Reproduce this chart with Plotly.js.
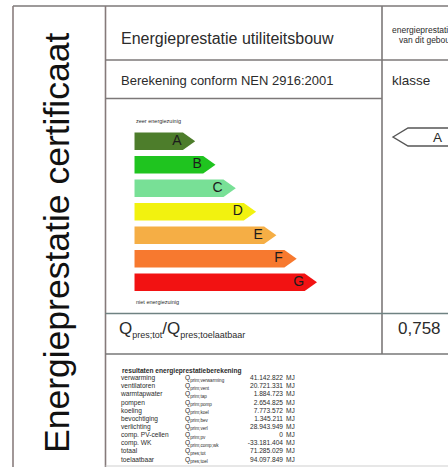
<!DOCTYPE html>
<html>
<head>
<meta charset="utf-8">
<script src="https://cdn.plot.ly/plotly-3.0.1.min.js"></script>
<style>html,body{margin:0;padding:0;background:#fff;overflow:hidden}#chart{width:448px;height:467px}</style>
</head>
<body>
<div id="chart"></div>
<script>
// ---- data ----
var classes = ['A', 'B', 'C', 'D', 'E', 'F', 'G'];
var classLengths = [3, 4, 5, 6, 7, 8, 9];
var classColors = ['#4d7d2b', '#1fc41f', '#78e096', '#f2f20f', '#f5ae45', '#f7792f', '#f21212'];
var resultClass = 'A';
var ratioValue = 0.758;

var rowLabels = ['verwarming', 'ventilatoren', 'warmtapwater', 'pompen', 'koeling', 'bevochtiging',
  'verlichting', 'comp. PV-cellen', 'comp. WK', 'totaal', 'toelaatbaar'];
var rowSymbols = ['prim;verwarming', 'prim;vent', 'prim;tap', 'prim;pomp', 'prim;koel', 'prim;bev',
  'prim;verl', 'prim;pv', 'prim;comp;wk', 'pres;tot', 'pres;toel'];
var rowValues = [41142822, 20721331, 1884723, 2654825, 7773572, 1345211, 28943949, 0, -33181404, 71285029, 94097849];
var rowUnit = 'MJ';

// ---- helpers ----
var FONT = 'Liberation Sans, Arial, sans-serif';
var TXT = '#2b2b2b';
function fmt(v) {
  var s = Math.abs(v).toString().replace(/\B(?=(\d{3})+(?!\d))/g, '.');
  return (v < 0 ? '-' : '') + s;
}

var traces = [];
var H = 0.372, TIP = 0.606;
classes.forEach(function (c, i) {
  var L = classLengths[i];
  traces.push({
    type: 'scatter', mode: 'lines', xaxis: 'x2', yaxis: 'y2',
    x: [0, L - TIP, L, L - TIP, 0, 0],
    y: [i - H, i - H, i, i + H, i + H, i - H],
    fill: 'toself', fillcolor: classColors[i], line: {width: 0, color: classColors[i]},
    hoverinfo: 'skip', showlegend: false
  });
});
traces.push({
  type: 'scatter', mode: 'text', xaxis: 'x2', yaxis: 'y2',
  x: classLengths.map(function (L) { return L - 0.9; }),
  y: classes.map(function (c, i) { return i; }),
  text: classes, textposition: 'middle center',
  textfont: {family: FONT, size: 14, color: '#1c1c1c'},
  hoverinfo: 'skip', showlegend: false
});

// table rows
var ROW0 = 378.5, ROWD = 8.15;
var rowY = rowLabels.map(function (r, i) { return ROW0 + ROWD * i; });
var tf = {family: FONT, size: 6.6, color: TXT};
traces.push({type: 'scatter', mode: 'text', x: rowLabels.map(function () { return 121; }), y: rowY,
  text: rowLabels, textposition: 'middle right', textfont: tf, hoverinfo: 'skip', showlegend: false});
traces.push({type: 'scatter', mode: 'text', x: rowLabels.map(function () { return 185; }), y: rowY,
  text: rowSymbols.map(function (s) { return 'Q<sub>' + s + '</sub>'; }), textposition: 'middle right',
  textfont: tf, hoverinfo: 'skip', showlegend: false});
traces.push({type: 'scatter', mode: 'text', x: rowLabels.map(function () { return 283; }), y: rowY,
  text: rowValues.map(fmt), textposition: 'middle left', textfont: tf, hoverinfo: 'skip', showlegend: false});
traces.push({type: 'scatter', mode: 'text', x: rowLabels.map(function () { return 286; }), y: rowY,
  text: rowLabels.map(function () { return rowUnit; }), textposition: 'middle right', textfont: tf,
  hoverinfo: 'skip', showlegend: false});

var LC = '#7c7878';
function ln(x0, y0, x1, y1, col, w) {
  return {type: 'line', xref: 'x', yref: 'y', x0: x0, y0: y0, x1: x1, y1: y1,
    line: {color: col || LC, width: w || 1.6}};
}
var shapes = [
  ln(13, 6, 460, 6),
  ln(13, 6, 13, 470, '#8a7e7e'),
  ln(105.5, 6, 105.5, 470, '#857a7a'),
  ln(105.5, 60, 460, 60),
  ln(105.5, 98.5, 382, 98.5),
  ln(382, 6, 382, 354),
  ln(105.5, 313.5, 460, 313.5, '#6f8282'),
  ln(105.5, 354, 460, 354, '#777'),
  ln(105.5, 466, 460, 466, '#cfcfcf', 1),
  {type: 'path', xref: 'x', yref: 'y', path: 'M393,137 L408,128 L470,128 L470,146 L408,146 Z',
    fillcolor: '#fff', line: {color: '#555', width: 1.4}}
];

function ann(text, x, y, size, opts) {
  var a = {text: text, x: x, y: y, xref: 'x', yref: 'y', showarrow: false, xanchor: 'left', yanchor: 'middle',
    font: {family: FONT, size: size, color: TXT}};
  for (var k in opts) a[k] = opts[k];
  return a;
}
var sub = function (s) { return '<sub><span style="font-size:9px">' + s + '</span></sub>'; };
var annotations = [
  ann('Energieprestatie certificaat', 57, 243, 35.5, {textangle: -90, xanchor: 'center', font: {family: FONT, size: 35.5, color: '#111'}}),
  ann('Energieprestatie utiliteitsbouw', 119, 38, 16),
  ann('Berekening conform NEN 2916:2001', 119, 80, 13),
  ann('energieprestatie', 390, 30, 8.5),
  ann('van dit gebouw', 397, 40, 8.5),
  ann('klasse', 390, 80, 13.5),
  ann(resultClass, 437, 137.5, 13.5, {xanchor: 'center'}),
  ann('zeer energiezuinig', 134, 120.5, 5.5),
  ann('niet energiezuinig', 134, 302, 5.5),
  ann('Q' + sub('pres;tot') + '/Q' + sub('pres;toelaatbaar'), 117, 329, 17),
  ann(ratioValue.toFixed(3).replace('.', ','), 396, 328, 17),
  ann('<b>resultaten energieprestatieberekening</b>', 120, 370.5, 6.6)
];

var layout = {
  width: 448, height: 467, margin: {l: 0, r: 0, t: 0, b: 0},
  paper_bgcolor: '#fff', plot_bgcolor: '#fff', showlegend: false,
  xaxis: {range: [0, 448], domain: [0, 1], visible: false, fixedrange: true},
  yaxis: {range: [467, 0], domain: [0, 1], visible: false, fixedrange: true},
  xaxis2: {range: [0, 10], domain: [134.3 / 448, 337.3 / 448], anchor: 'y2', visible: false},
  yaxis2: {range: [6.5, -0.5], domain: [1 - 294 / 467, 1 - 129.4 / 467], anchor: 'x2', visible: false},
  shapes: shapes, annotations: annotations
};
Plotly.newPlot('chart', traces, layout, {staticPlot: true, displayModeBar: false});
</script>
</body>
</html>
